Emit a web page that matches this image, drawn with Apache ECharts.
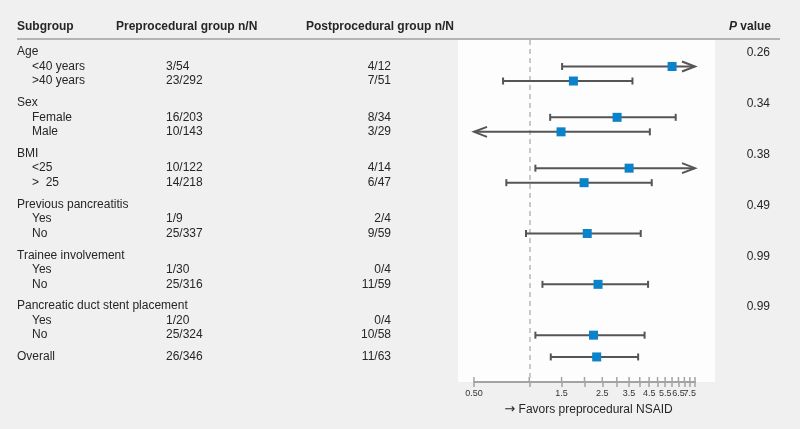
<!DOCTYPE html>
<html>
<head>
<meta charset="utf-8">
<script src="https://cdn.jsdelivr.net/npm/echarts@6/dist/echarts.min.js"></script>
<style>
  html, body { margin: 0; padding: 0; background: #eff0ef; }
  #chart { width: 800px; height: 429px; }
</style>
</head>
<body>
<div id="chart"></div>
<script>
// table rows, top to bottom
const rowLabels = ['Age', '<40 years', '>40 years', 'Sex', 'Female', 'Male', 'BMI', '<25', '>  25',
  'Previous pancreatitis', 'Yes', 'No', 'Trainee involvement', 'Yes', 'No',
  'Pancreatic duct stent placement', 'Yes', 'No', 'Overall'];
const rowLevels = [0, 1, 1, 0, 1, 1, 0, 1, 1, 0, 1, 1, 0, 1, 1, 0, 1, 1, 0];
const preCounts = ['', '3/54', '23/292', '', '16/203', '10/143', '', '10/122', '14/218',
  '', '1/9', '25/337', '', '1/30', '25/316', '', '1/20', '25/324', '26/346'];
const postCounts = ['', '4/12', '7/51', '', '8/34', '3/29', '', '4/14', '6/47',
  '', '2/4', '9/59', '', '0/4', '11/59', '', '0/4', '10/58', '11/63'];
const pValues = ['0.26', '', '', '0.34', '', '', '0.38', '', '', '0.49', '', '',
  '0.99', '', '', '0.99', '', '', ''];

// odds ratio and 95% CI (null = not estimable)
const oddsRatio = [null, 6.0, 1.74, null, 3.01, 1.49, null, 3.50, 1.99, null, null, 2.07, null, null, 2.37, null, null, 2.24, 2.33];
const ciLower   = [null, 1.51, 0.72, null, 1.30, 0.30, null, 1.08, 0.75, null, null, 0.96, null, null, 1.18, null, null, 1.08, 1.31];
const ciUpper   = [null, 12.0, 3.65, null, 6.28, 4.54, null, 12.0, 4.65, null, null, 4.05, null, null, 4.44, null, null, 4.25, 3.92];

const headers = ['Subgroup', 'Preprocedural group n/N', 'Postprocedural group n/N', '{i|P} value'];
const tickValues = [0.5, 1, 1.5, 2, 2.5, 3, 3.5, 4, 4.5, 5, 5.5, 6, 6.5, 7, 7.5, 8];
// 8 carries no text; it is there so the last printed label is not dropped
const labelValues = [0.5, 1.5, 2.5, 3.5, 4.5, 5.5, 6.5, 7.5, 8];
const tickLabels = ['0.50', '1.5', '2.5', '3.5', '4.5', '5.5', '6.5', '7.5', ''];
const axisName = '{a|→} Favors preprocedural NSAID';

const xMin = 0.5, xMax = 8;
const yMin = -1.65, yMax = 45.45;
const FONT = 'Liberation Sans';
const TEXT = '#262626';
const AXIS = '#a3a3a3';

// vertical slot of every row: group titles leave a gap before them
const rowPos = [];
let pos = 0;
rowLevels.forEach((lv, i) => {
  if (i > 0) pos += (lv === 0 ? 3 : 2);
  rowPos.push(pos);
});

const ciData = [];
oddsRatio.forEach((v, i) => {
  if (v != null) ciData.push([v, ciLower[i], ciUpper[i], rowPos[i]]);
});

const chart = echarts.init(document.getElementById('chart'));

function renderTable(params, api) {
  const i = params.dataIndex;
  const y = api.coord([1, rowPos[i]])[1];
  const base = { fontFamily: FONT, fontSize: 12, fill: TEXT, verticalAlign: 'middle' };
  const kids = [
    { type: 'text', style: Object.assign({}, base, { text: rowLabels[i], x: rowLevels[i] ? 32 : 17, y: y, align: 'left' }) }
  ];
  if (preCounts[i]) kids.push({ type: 'text', style: Object.assign({}, base, { text: preCounts[i], x: 166, y: y, align: 'left' }) });
  if (postCounts[i]) kids.push({ type: 'text', style: Object.assign({}, base, { text: postCounts[i], x: 391, y: y, align: 'right' }) });
  if (pValues[i]) kids.push({ type: 'text', style: Object.assign({}, base, { text: pValues[i], x: 770, y: y + 1, align: 'right' }) });
  return { type: 'group', children: kids };
}

function renderCI(params, api) {
  const est = api.value(0), lo = api.value(1), hi = api.value(2), p = api.value(3);
  const pL = api.coord([Math.max(lo, xMin), p]);
  const pR = api.coord([Math.min(hi, xMax), p]);
  const pE = api.coord([est, p]);
  const st = { stroke: '#555', lineWidth: 2, fill: null };
  const kids = [{ type: 'line', shape: { x1: pL[0], y1: pL[1], x2: pR[0], y2: pR[1] }, style: st }];
  if (lo < xMin) {
    kids.push({ type: 'polyline', shape: { points: [[pL[0] + 13, pL[1] - 5], [pL[0], pL[1]], [pL[0] + 13, pL[1] + 5]] }, style: st });
  } else {
    kids.push({ type: 'line', shape: { x1: pL[0], y1: pL[1] - 3.5, x2: pL[0], y2: pL[1] + 3.5 }, style: st });
  }
  if (hi > xMax) {
    kids.push({ type: 'polyline', shape: { points: [[pR[0] - 13, pR[1] - 5], [pR[0], pR[1]], [pR[0] - 13, pR[1] + 5]] }, style: st });
  } else {
    kids.push({ type: 'line', shape: { x1: pR[0], y1: pR[1] - 3.5, x2: pR[0], y2: pR[1] + 3.5 }, style: st });
  }
  kids.push({ type: 'rect', shape: { x: pE[0] - 4.5, y: pE[1] - 4.5, width: 9, height: 9 }, style: { fill: '#0a83cb' } });
  return { type: 'group', children: kids };
}

// upper half of the axis ticks (the axis itself draws the lower half)
function renderTickUp(params, api) {
  const pt = api.coord([api.value(0), yMax]);
  return { type: 'line', shape: { x1: pt[0], y1: pt[1], x2: pt[0], y2: pt[1] - 5 }, style: { stroke: AXIS, lineWidth: 1.5 } };
}

chart.setOption({
  backgroundColor: '#eff0ef',
  textStyle: { fontFamily: FONT },
  animation: false,
  graphic: [
    { type: 'rect', z: -10, shape: { x: 458, y: 40, width: 257, height: 342 }, style: { fill: '#fcfdfc' } },
    { type: 'line', shape: { x1: 17, y1: 39, x2: 780, y2: 39 }, style: { stroke: '#b3b3b3', lineWidth: 2 } },
    { type: 'text', style: { text: headers[0], x: 17, y: 27, align: 'left', verticalAlign: 'middle', fontFamily: FONT, fontSize: 12, fontWeight: 'bold', fill: TEXT } },
    { type: 'text', style: { text: headers[1], x: 116, y: 27, align: 'left', verticalAlign: 'middle', fontFamily: FONT, fontSize: 12, fontWeight: 'bold', fill: TEXT } },
    { type: 'text', style: { text: headers[2], x: 306, y: 27, align: 'left', verticalAlign: 'middle', fontFamily: FONT, fontSize: 12, fontWeight: 'bold', fill: TEXT } },
    { type: 'text', style: { text: headers[3], x: 771, y: 27, align: 'right', verticalAlign: 'middle', fontFamily: FONT, fontSize: 12, fontWeight: 'bold', fill: TEXT,
      rich: { i: { fontStyle: 'italic', fontWeight: 'bold', fontFamily: FONT, fontSize: 12, fill: TEXT } } } }
  ],
  grid: { left: 474, right: 105, top: 40, bottom: 47, containLabel: false },
  xAxis: {
    type: 'log',
    logBase: 2,
    min: xMin,
    max: xMax,
    position: 'bottom',
    splitLine: { show: false },
    axisLine: { show: true, onZero: false, lineStyle: { color: AXIS, width: 2 } },
    axisTick: { show: true, length: 5, customValues: tickValues, lineStyle: { color: AXIS, width: 1.5 } },
    axisLabel: {
      show: true, customValues: labelValues, color: '#333', fontSize: 9, margin: 7,
      hideOverlap: false, interval: 0, fontFamily: FONT,
      formatter: v => tickLabels[labelValues.findIndex(t => Math.abs(t - v) < 1e-6)] || ''
    },
    name: axisName,
    nameLocation: 'middle',
    nameGap: 20,
    nameTextStyle: { color: TEXT, fontSize: 12, fontFamily: FONT, padding: [0, 0, 0, 8],
      rich: { a: { fontFamily: 'DejaVu Sans', fontSize: 13, color: TEXT } } }
  },
  yAxis: { type: 'value', inverse: true, min: yMin, max: yMax, show: false },
  series: [
    {
      type: 'custom',
      name: 'table',
      data: rowPos.map(p => [1, p]),
      encode: { x: 0, y: 1 },
      renderItem: renderTable,
      clip: false,
      silent: true
    },
    {
      type: 'custom',
      name: 'ticks',
      data: tickValues.map(v => [v, yMax]),
      encode: { x: 0, y: 1 },
      renderItem: renderTickUp,
      clip: false,
      silent: true
    },
    {
      type: 'custom',
      name: 'odds ratio',
      data: ciData,
      encode: { x: [0, 1, 2], y: 3 },
      renderItem: renderCI,
      clip: false,
      z: 5,
      markLine: {
        silent: true,
        symbol: 'none',
        label: { show: false },
        lineStyle: { color: '#b8b8b8', type: [5, 4], width: 1.5 },
        data: [{ xAxis: 1 }]
      }
    }
  ]
});
</script>
</body>
</html>
